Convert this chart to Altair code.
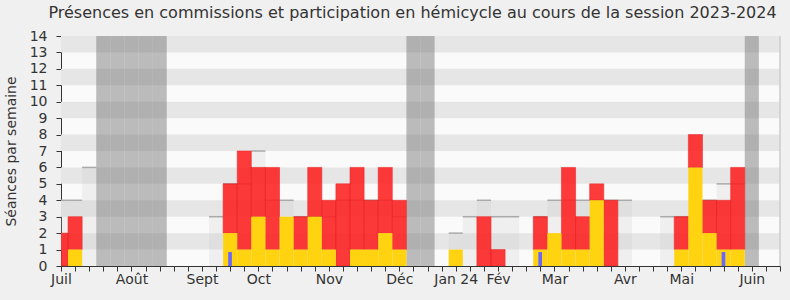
import altair as alt
import pandas as pd

FONT = "DejaVu Sans"

weeks = list(range(52))
# participation en hémicycle (jaune)
hemicycle = [0, 1, 0, 0, 0, 0, 0, 0, 0, 0, 0, 0, 2, 1, 3, 1, 3, 1, 3, 1, 0, 1, 1, 2, 1, 0,
             0, 0, 1, 0, 0, 0, 0, 0, 1, 2, 1, 1, 4, 0, 0, 0, 0, 0, 1, 6, 2, 1, 1, 0, 0, 0]
# présences en commission (rouge, empilé au-dessus)
commission = [2, 2, 0, 0, 0, 0, 0, 0, 0, 0, 0, 0, 3, 6, 3, 5, 0, 2, 3, 3, 5, 5, 3, 4, 3, 0,
              0, 0, 0, 0, 3, 1, 0, 0, 2, 0, 5, 2, 1, 4, 0, 0, 0, 0, 2, 2, 2, 3, 5, 0, 0, 0]
# questions orales (bleu)
questions = [0, 0, 0, 0, 0, 0, 0, 0, 0, 0, 0, 0, 0.85, 0, 0, 0, 0, 0, 0, 0, 0, 0, 0, 0, 0, 0,
             0, 0, 0, 0, 0, 0, 0, 0, 0.85, 0, 0, 0, 0, 0, 0, 0, 0, 0, 0, 0, 0, 0.85, 0, 0, 0, 0]
# médiane des députés
mediane = [4, 4, 6, 0, 0, 0, 0, 0, 0, 0, 0, 3, 5, 5, 7, 4, 4, 3, 3, 3, 4, 4, 4, 4, 3, 0,
           0, 0, 2, 3, 4, 3, 3, 0, 3, 4, 4, 4, 4, 4, 4, 0, 0, 3, 3, 6, 4, 5, 5, 0, 0, 0]
vacances = [3, 4, 5, 6, 7, 25, 26, 49]
mois_pos = [0, 5, 10, 14, 19, 24, 28, 31, 35, 40, 44, 49]
mois_lbl = ["Juil", "Août", "Sept", "Oct", "Nov", "Déc", "Jan 24", "Fév", "Mar", "Avr", "Mai", "Juin"]
y_ticks = list(range(15))

TITLE = "Présences en commissions et participation en hémicycle au cours de la session 2023-2024"

df = pd.DataFrame({"week": weeks, "hem": hemicycle, "com": commission,
                   "q": questions, "med": mediane})
df["x0"] = df["week"] - 0.5
df["x1"] = df["week"] + 0.5
df["top"] = df["hem"] + df["com"]
df["qx0"] = df["week"] - 0.14
df["qx1"] = df["week"] + 0.12
df["zero"] = 0

vac = pd.DataFrame({"week": vacances})
vac["x0"] = vac["week"] - 0.5
vac["x1"] = vac["week"] + 0.5
vac["y0"] = 0
vac["y1"] = 14

stripes = pd.DataFrame({"y0": list(range(1, 14, 2))})
stripes["y1"] = stripes["y0"] + 1
stripes["x0"] = weeks[0]
stripes["x1"] = weeks[-1]

edge = pd.DataFrame({"x": [weeks[-1]], "y0": [0], "y1": [14]})

xscale = alt.Scale(domain=[0, 51], nice=False, zero=False)
yscale = alt.Scale(domain=[0, 14], nice=False, zero=True)

label_expr = " : ".join(
    [f"datum.value == {p} ? '{l}'" for p, l in zip(mois_pos, mois_lbl)]
) + " : ''"

xaxis = alt.Axis(values=weeks, tickCount=len(weeks), labelExpr=label_expr, title=None,
                 grid=False, tickSize=5, tickColor="#333", domainColor="#333",
                 labelColor="#333", labelFontSize=14, labelFont=FONT, labelFlush=False,
                 labelOverlap=False, labelPadding=1, labelBound=False)
yaxis = alt.Axis(values=y_ticks, tickCount=len(y_ticks), title="Séances par semaine",
                 grid=False, tickSize=5, tickColor="#333", domainColor="#333",
                 labelColor="#333", labelFontSize=14, labelFont=FONT, labelPadding=9,
                 labelOverlap=False, titleFontSize=14, titleFont=FONT,
                 titleFontWeight="normal", titleColor="#333", titleX=-50, titleY=115,
                 titleAngle=270, titleBaseline="middle", titleAlign="center")

band = alt.Chart(stripes).mark_rect(color="#e6e6e6").encode(
    x=alt.X("x0:Q", scale=xscale, axis=xaxis),
    x2="x1:Q",
    y=alt.Y("y0:Q", scale=yscale, axis=yaxis),
    y2="y1:Q",
)
med_rect = alt.Chart(df).transform_filter("datum.med > 0").mark_rect(
    color="#c8c8c8", opacity=0.22, clip=True).encode(
    x=alt.X("x0:Q", scale=xscale), x2="x1:Q",
    y=alt.Y("zero:Q", scale=yscale), y2="med:Q",
)
med_line = alt.Chart(df).transform_filter("datum.med > 0").mark_rule(
    color="#aaaaaa", strokeWidth=1.5, clip=True).encode(
    x=alt.X("x0:Q", scale=xscale), x2="x1:Q",
    y=alt.Y("med:Q", scale=yscale),
)
vac_rect = alt.Chart(vac).mark_rect(color="#6e6e6e", opacity=0.45, clip=True).encode(
    x=alt.X("x0:Q", scale=xscale), x2="x1:Q",
    y=alt.Y("y0:Q", scale=yscale), y2="y1:Q",
)
red = alt.Chart(df).transform_filter("datum.com > 0").mark_rect(
    color="#ff1f1f", opacity=0.87, clip=True, stroke="#e81010", strokeWidth=0.6).encode(
    x=alt.X("x0:Q", scale=xscale), x2="x1:Q",
    y=alt.Y("hem:Q", scale=yscale), y2="top:Q",
)
yellow = alt.Chart(df).transform_filter("datum.hem > 0").mark_rect(
    color="#ffd30f", clip=True).encode(
    x=alt.X("x0:Q", scale=xscale), x2="x1:Q",
    y=alt.Y("zero:Q", scale=yscale), y2="hem:Q",
)
blue = alt.Chart(df).transform_filter("datum.q > 0").mark_rect(color="#6868ff").encode(
    x=alt.X("qx0:Q", scale=xscale), x2="qx1:Q",
    y=alt.Y("zero:Q", scale=yscale), y2="q:Q",
)
right_edge = alt.Chart(edge).mark_rule(color="#cccccc", strokeWidth=1.5).encode(
    x=alt.X("x:Q", scale=xscale),
    y=alt.Y("y0:Q", scale=yscale), y2="y1:Q",
)

chart = alt.layer(band, med_rect, med_line, vac_rect, red, yellow, blue, right_edge).properties(
    width=719, height=230,
    autosize=alt.AutoSizeParams(type="none"),
    padding={"left": 61, "top": 36, "right": 10, "bottom": 34},
    background="#f0f0f0",
    title=alt.TitleParams(TITLE, font=FONT, fontSize=16, fontWeight="normal",
                          color="#333", anchor="middle", dx=-8, offset=8),
).configure_view(fill="#fafafa", stroke=None).configure_axis(
    labelOverlap=False, labelFlush=False
)

chart.save("out.html", embed_options={"renderer": "svg", "actions": False})
